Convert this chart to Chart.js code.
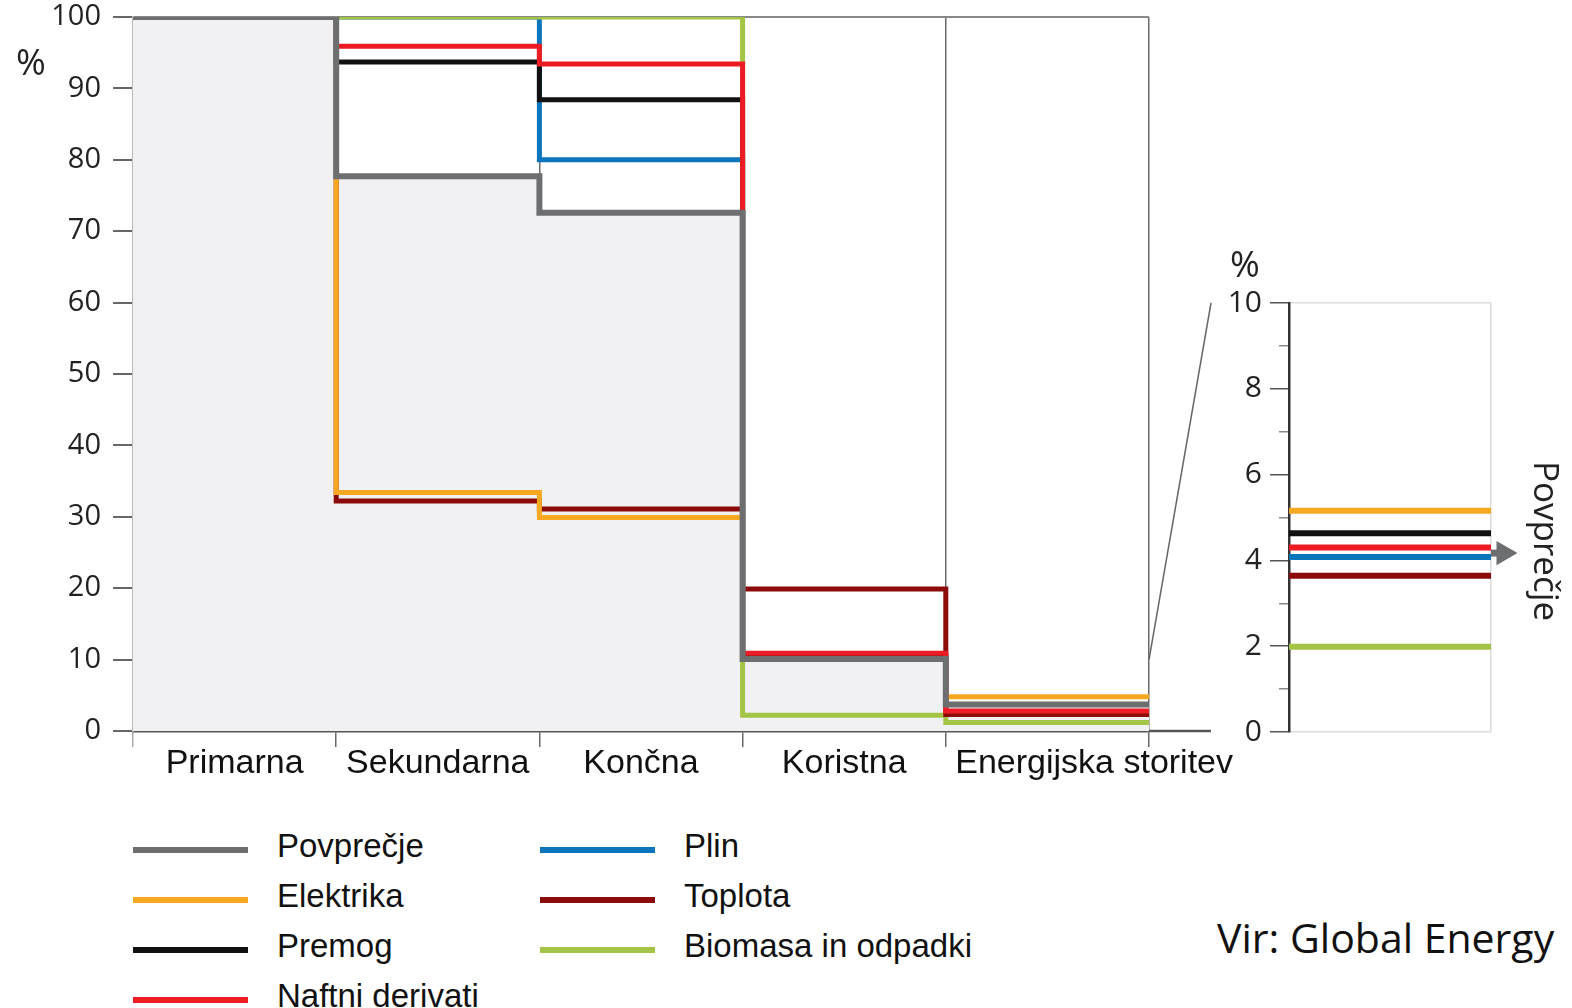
<!DOCTYPE html>
<html>
<head>
<meta charset="utf-8">
<script src="https://cdn.jsdelivr.net/npm/chart.js@4.4.1/dist/chart.umd.min.js"></script>
<style>
  body { margin:0; background:#fff; width:1572px; height:1008px; position:relative; overflow:hidden; font-family:"Liberation Sans", Arial, sans-serif; }
  #main { position:absolute; left:0; top:0; }
  #inset { position:absolute; left:1200px; top:240px; }
  .pct { position:absolute; font-family:"Open Sans"; font-size:36px; line-height:36px; color:#222; }
  #avgLabel { position:absolute; left:1528px; top:461px; writing-mode:vertical-rl; font-family:"Open Sans"; font-size:35px; line-height:38px; color:#222; }
  #legend { position:absolute; left:133px; top:821px; display:grid; grid-template-rows:repeat(4, 50px); grid-auto-flow:column; grid-template-columns:407px 520px; }
  .item { display:flex; align-items:center; font-size:33px; color:#111; white-space:nowrap; }
  .swatch { flex:0 0 115px; width:115px; height:6px; margin-right:29px; margin-top:8px; }
  #source { position:absolute; left:1217px; top:909px; font-family:"Open Sans"; font-size:41px; color:#111; }
</style>
</head>
<body>
<canvas id="main" width="1240" height="800"></canvas>
<canvas id="inset" width="372" height="520"></canvas>
<div class="pct" style="left:16px; top:44px;">%</div>
<div class="pct" style="left:1230px; top:246px;">%</div>
<div id="avgLabel">Povprečje</div>
<div id="legend"></div>
<div id="source">Vir: Global Energy</div>
<script>
// stages of energy conversion
const stages = ['Primarna', 'Sekundarna', 'Končna', 'Koristna', 'Energijska storitev'];
const seriesNames = ['Povprečje', 'Elektrika', 'Premog', 'Naftni derivati', 'Plin', 'Toplota', 'Biomasa in odpadki'];

// main chart, % remaining at each stage
const povprecje = [100, 77.7, 72.6, 10.1, 3.7];
const elektrika = [100, 33.4, 29.9, 10.1, 4.8];
const premog    = [100, 93.7, 88.4, 10.5, 3.7];
const naftni    = [100, 95.9, 93.4, 10.9, 2.8];
const plin      = [100, 100, 80.0, 10.1, 3.7];
const toplota   = [100, 32.2, 31.1, 19.9, 2.3];
const biomasa   = [100, 100, 100, 2.2, 1.2];

// zoomed energy service (0-10 %)
const insetPovprecje = 4.17;
const insetElektrika = 5.16;
const insetPremog    = 4.63;
const insetNaftni    = 4.30;
const insetPlin      = 4.08;
const insetToplota   = 3.64;
const insetBiomasa   = 1.99;

const colors = ['#6d6e70', '#f6a821', '#111111', '#ed1c24', '#0b75bb', '#8b0a0a', '#a4c446'];

// legend
const legendEl = document.getElementById('legend');
seriesNames.forEach((name, i) => {
    const item = document.createElement('div');
    item.className = 'item';
    item.innerHTML = '<span class="swatch" style="background:' + colors[i] + '"></span><span>' + name + '</span>';
    legendEl.appendChild(item);
});

// ---- inset chart ----
const insetVals = [insetElektrika, insetPremog, insetNaftni, insetPlin, insetToplota, insetBiomasa];
const insetSets = insetVals.map((v, i) => ({
    label: seriesNames[i + 1],
    data: [{x: 0, y: v}, {x: 1, y: v}],
    borderColor: colors[i + 1],
    borderWidth: 6,
    pointRadius: 0
}));
const arrowX = 1.062;
insetSets.unshift({
    label: 'Povprečje',
    data: [{x: 1, y: insetPovprecje}, {x: arrowX, y: insetPovprecje}],
    borderColor: colors[0],
    backgroundColor: colors[0],
    borderWidth: 7,
    pointRadius: [0, 14],
    pointStyle: 'triangle',
    rotation: 90,
    pointBackgroundColor: colors[0],
    pointBorderWidth: 0,
    clip: false
});

const insetChart = new Chart(document.getElementById('inset'), {
    type: 'line',
    data: { datasets: insetSets },
    options: {
        responsive: false,
        animation: false,
        devicePixelRatio: 1,
        layout: { padding: { top: 63, right: 81, bottom: 28, left: 0 } },
        plugins: { legend: { display: false }, tooltip: { enabled: false } },
        scales: {
            x: {
                type: 'linear', min: 0, max: 1,
                ticks: { display: false, stepSize: 1 },
                grid: { color: '#dcdcdc', lineWidth: 1.5, drawTicks: false },
                border: { display: true, color: '#dcdcdc', width: 1.5 },
                afterFit(a) { a.height = 0; }
            },
            y: {
                min: 0, max: 10, weight: 1,
                ticks: {
                    stepSize: 1, autoSkip: false,
                    font: { family: 'Open Sans', size: 30 }, color: '#222', padding: 8,
                    callback: v => (v % 2 === 0 ? v : '')
                },
                grid: {
                    color: c => (c.tick && c.tick.value === 10 ? '#dcdcdc' : 'transparent'),
                    tickColor: c => (c.tick && c.tick.value % 2 === 0 ? '#555' : 'transparent'),
                    tickLength: 19, lineWidth: 1.5
                },
                border: { display: true, color: '#333', width: 2.5 },
                afterFit(a) { a.width = 89; a.paddingTop = 0; a.paddingBottom = 0; }
            },
            ym: {
                position: 'left', min: 0, max: 10, weight: 0,
                ticks: { display: false, stepSize: 1 },
                grid: {
                    drawOnChartArea: false,
                    tickColor: c => (c.tick && c.tick.value % 2 === 1 ? '#888' : 'transparent'),
                    tickLength: 10, lineWidth: 1.5
                },
                border: { display: false },
                afterFit(a) { a.width = 0; }
            }
        }
    }
});

// ---- main chart ----
const mainSeries = [povprecje, elektrika, premog, naftni, plin, toplota, biomasa];
const layer = [0, 2, 4, 1, 6, 3, 5];

function stepPoints(vals) {
    const pts = vals.map((v, i) => ({x: i, y: v}));
    pts.push({x: vals.length, y: vals[vals.length - 1]});
    return pts;
}

const mainSets = mainSeries.map((vals, i) => ({
    label: seriesNames[i],
    data: stepPoints(vals),
    stepped: true,
    borderColor: colors[i],
    borderWidth: i === 0 ? 6 : 5,
    pointRadius: 0,
    order: layer[i],
    fill: i === 0 ? 'origin' : false,
    backgroundColor: i === 0 ? '#f1f1f3' : 'transparent'
}));

const boundaries = stages.map((s, i) => i).concat(stages.length);
const labelAt = [0.5, 1.5, 2.5, 3.5, 4.73];
const xTicks = boundaries.concat(labelAt).sort((a, b) => a - b);
const boundaryColor = c => {
    if (!c.tick || c.tick.value % 1 !== 0) return 'transparent';
    return c.tick.value === 0 ? '#aaa' : '#6a6a6a';
};

const connectors = {
    id: 'connectors',
    afterDraw(chart) {
        const {ctx, scales: {x, y}} = chart;
        const x0 = x.getPixelForValue(stages.length);
        const endX = 1211;
        const insetTop = 240 + insetChart.scales.y.getPixelForValue(10);
        ctx.save();
        ctx.strokeStyle = '#666';
        ctx.lineWidth = 1.5;
        ctx.beginPath();
        ctx.moveTo(x0, y.getPixelForValue(10));
        ctx.lineTo(endX, insetTop);
        ctx.stroke();
        ctx.lineWidth = 2.5;
        ctx.strokeStyle = '#555';
        ctx.beginPath();
        ctx.moveTo(x0, y.getPixelForValue(0));
        ctx.lineTo(endX, y.getPixelForValue(0));
        ctx.stroke();
        ctx.restore();
    }
};

new Chart(document.getElementById('main'), {
    type: 'line',
    data: { datasets: mainSets },
    plugins: [connectors],
    options: {
        responsive: false,
        animation: false,
        devicePixelRatio: 1,
        layout: { padding: { top: 17, right: 91, bottom: 0, left: 0 } },
        plugins: {
            legend: { display: false },
            tooltip: { enabled: false },
            filler: { drawTime: 'beforeDatasetsDraw' }
        },
        scales: {
            x: {
                type: 'linear', min: 0, max: stages.length,
                afterBuildTicks(a) { a.ticks = xTicks.map(v => ({value: v})); },
                ticks: {
                    autoSkip: false, maxRotation: 0,
                    callback: v => { const i = labelAt.indexOf(v); return i < 0 ? '' : stages[i]; },
                    font: { family: 'Liberation Sans', size: 34 }, color: '#111', padding: -4
                },
                grid: { color: boundaryColor, tickColor: boundaryColor, tickLength: 16, lineWidth: 1.5 },
                border: { display: true, color: '#555', width: 2.5 },
                afterFit(a) { a.height = 69; a.paddingLeft = 0; a.paddingRight = 0; }
            },
            y: {
                min: 0, max: 100,
                ticks: { stepSize: 10, font: { family: 'Open Sans', size: 29 }, color: '#222', padding: 12 },
                grid: {
                    color: c => (c.tick && c.tick.value === 100 ? '#888' : 'transparent'),
                    tickColor: '#666', tickLength: 20, lineWidth: 2
                },
                border: { display: true, color: '#bbb', width: 1.5 },
                afterFit(a) { a.width = 133; a.paddingTop = 0; a.paddingBottom = 0; }
            }
        }
    }
});
</script>
</body>
</html>
